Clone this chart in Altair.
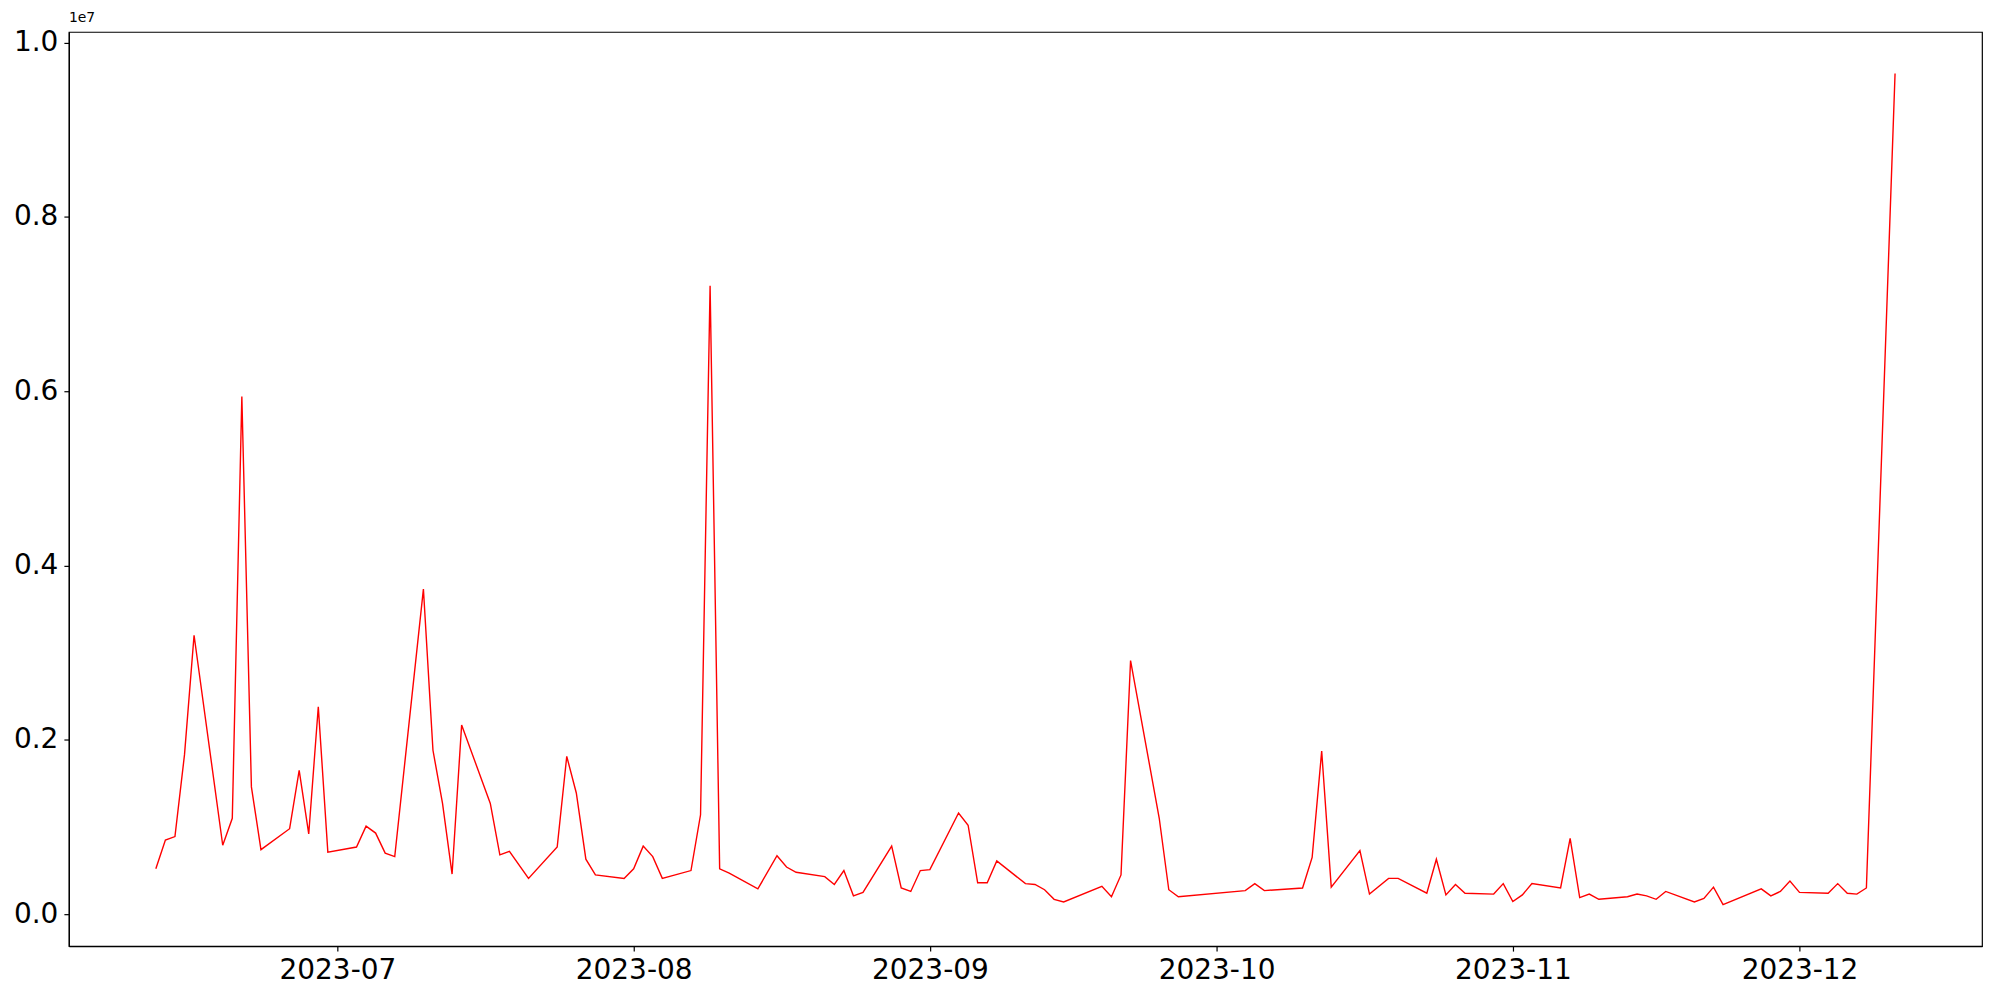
import altair as alt
import pandas as pd

dates = [
    "2023-06-12", "2023-06-13", "2023-06-14", "2023-06-15", "2023-06-16",
    "2023-06-19", "2023-06-20", "2023-06-21", "2023-06-22", "2023-06-23",
    "2023-06-26", "2023-06-27", "2023-06-28", "2023-06-29", "2023-06-30",
    "2023-07-03", "2023-07-04", "2023-07-05", "2023-07-06", "2023-07-07",
    "2023-07-10", "2023-07-11", "2023-07-12", "2023-07-13", "2023-07-14",
    "2023-07-17", "2023-07-18", "2023-07-19", "2023-07-21",
    "2023-07-24", "2023-07-25", "2023-07-26", "2023-07-27", "2023-07-28",
    "2023-07-31", "2023-08-01", "2023-08-02", "2023-08-03", "2023-08-04",
    "2023-08-07", "2023-08-08", "2023-08-09", "2023-08-10", "2023-08-11",
    "2023-08-14", "2023-08-16", "2023-08-17", "2023-08-18",
    "2023-08-21", "2023-08-22", "2023-08-23", "2023-08-24", "2023-08-25",
    "2023-08-28", "2023-08-29", "2023-08-30", "2023-08-31", "2023-09-01",
    "2023-09-04", "2023-09-05", "2023-09-06", "2023-09-07", "2023-09-08",
    "2023-09-11", "2023-09-12", "2023-09-13", "2023-09-14", "2023-09-15",
    "2023-09-19", "2023-09-20", "2023-09-21", "2023-09-22",
    "2023-09-25", "2023-09-26", "2023-09-27",
    "2023-10-04", "2023-10-05", "2023-10-06",
    "2023-10-10", "2023-10-11", "2023-10-12", "2023-10-13",
    "2023-10-16", "2023-10-17", "2023-10-19", "2023-10-20",
    "2023-10-23", "2023-10-24", "2023-10-25", "2023-10-26", "2023-10-27",
    "2023-10-30", "2023-10-31", "2023-11-01", "2023-11-02", "2023-11-03",
    "2023-11-06", "2023-11-07", "2023-11-08", "2023-11-09", "2023-11-10",
    "2023-11-13", "2023-11-14", "2023-11-15", "2023-11-16", "2023-11-17",
    "2023-11-20", "2023-11-21", "2023-11-22", "2023-11-23",
    "2023-11-27", "2023-11-28", "2023-11-29", "2023-11-30", "2023-12-01",
    "2023-12-04", "2023-12-05", "2023-12-06", "2023-12-07", "2023-12-08",
    "2023-12-11",
]

values = [
    520000, 850000, 890000, 1830000, 3200000,
    790000, 1100000, 5940000, 1460000, 740000,
    980000, 1650000, 920000, 2380000, 710000,
    770000, 1010000, 930000, 700000, 660000,
    3730000, 1880000, 1270000, 460000, 2170000,
    1270000, 680000, 720000, 410000,
    770000, 1810000, 1390000, 630000, 450000,
    410000, 520000, 780000, 660000, 410000,
    500000, 1140000, 7210000, 520000, 470000,
    290000, 670000, 540000, 480000,
    430000, 340000, 500000, 210000, 250000,
    780000, 300000, 260000, 500000, 510000,
    1160000, 1020000, 360000, 360000, 610000,
    350000, 340000, 280000, 170000, 140000,
    320000, 200000, 450000, 2910000,
    1100000, 280000, 200000,
    270000, 350000, 270000,
    300000, 650000, 1870000, 310000,
    730000, 230000, 410000, 410000,
    240000, 630000, 220000, 340000, 240000,
    230000, 350000, 145000, 220000, 350000,
    300000, 870000, 190000, 230000, 170000,
    200000, 230000, 210000, 170000, 260000,
    140000, 180000, 310000, 110000,
    290000, 210000, 260000, 380000, 250000,
    240000, 350000, 240000, 230000, 300000,
    9646000,
]

y_ticks = [0, 2000000, 4000000, 6000000, 8000000, 10000000]
month_ticks = [(2023, 7), (2023, 8), (2023, 9), (2023, 10), (2023, 11), (2023, 12)]

df = pd.DataFrame({"date": dates, "value": values})

font = "DejaVu Sans"

chart = (
    alt.Chart(df)
    .mark_line(color="#ff0000", strokeWidth=1.4)
    .encode(
        x=alt.X(
            "date:T",
            scale=alt.Scale(
                type="utc",
                domain=[
                    alt.DateTime(year=2023, month=6, date=2, hours=21, minutes=36, utc=True),
                    alt.DateTime(year=2023, month=12, date=20, hours=2, minutes=24, utc=True),
                ],
            ),
            axis=alt.Axis(
                title=None,
                values=[alt.DateTime(year=y, month=m, date=1, utc=True) for y, m in month_ticks],
                labelExpr="utcFormat(datum.value, '%Y-%m')",
                grid=False,
                labelFontSize=28,
                labelPadding=5,
                tickSize=5,
                labelFlush=False,
                labelOverlap=False,
                labelFont=font,
                labelColor="black",
                domainColor="black",
                tickColor="black",
            ),
        ),
        y=alt.Y(
            "value:Q",
            scale=alt.Scale(domain=[-367000, 10123000], nice=False, zero=False),
            axis=alt.Axis(
                title=None,
                values=y_ticks,
                labelExpr="format(datum.value / 10000000, '.1f')",
                grid=False,
                labelFontSize=28,
                labelPadding=6,
                tickSize=5,
                labelFlush=False,
                labelOverlap=False,
                labelFont=font,
                labelColor="black",
                domainColor="black",
                tickColor="black",
            ),
        ),
    )
    .properties(
        width=1917,
        height=916,
        autosize=alt.AutoSizeParams(type="none"),
        padding={"left": 61, "top": 23, "right": 10, "bottom": 50},
        title=alt.TitleParams(
            text="1e7",
            anchor="start",
            frame="group",
            fontSize=14,
            fontWeight="normal",
            font=font,
            color="black",
            offset=4,
        ),
    )
    .configure_view(stroke="black", strokeWidth=1.2)
    .configure_axis(
        domainColor="black",
        domainWidth=1.2,
        tickColor="black",
        tickWidth=1.2,
        labelColor="black",
        labelFont=font,
    )
)

chart.save("out.html", embed_options={"renderer": "svg", "actions": False})
